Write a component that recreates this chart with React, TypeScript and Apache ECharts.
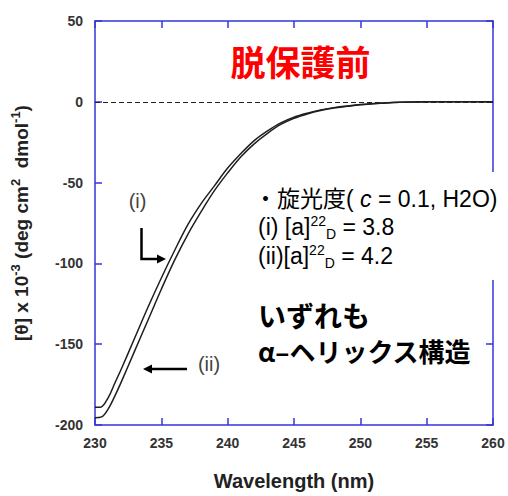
import React, { useEffect, useRef } from "react";
import * as echarts from "echarts";

// Wavelength (nm) and mean residue ellipticity [θ] x 10^-3
const wavelengthsI = [230, 230.4, 231, 231.5, 232, 233, 234, 235, 236, 237, 238, 239, 240, 241, 242, 243, 244, 245, 246, 247, 248, 249, 250, 251, 252, 253, 254, 255, 257, 260];
const thetaI = [-189, -189, -183, -174, -165, -146, -127, -109, -92, -76, -63, -52, -41, -32, -24, -18, -13, -9.5, -7, -5, -3.6, -2.6, -1.7, -1.1, -0.6, -0.3, -0.1, 0, 0, 0];

const wavelengthsII = [230, 230.5, 231, 231.5, 232, 233, 234, 235, 236, 237, 238, 239, 240, 241, 242, 243, 244, 245, 246, 247, 248, 249, 250, 251, 252, 253, 254, 255, 257, 260];
const thetaII = [-195.5, -195, -190, -182, -173, -154, -135, -116, -98, -82, -68, -55, -44, -34, -26, -19.5, -14, -10.2, -7.5, -5.4, -3.9, -2.8, -1.8, -1.2, -0.7, -0.35, -0.12, 0, 0, 0];

const xTicks = { min: 230, max: 260, interval: 5 };
const yTicks = { min: -200, max: 50, interval: 50 };

const AXIS_BLUE = "#3535d8";
const LATIN = "'Liberation Sans', Arial, 'Noto Sans CJK JP', sans-serif";
const CJK = "'Noto Sans CJK JP', 'Liberation Sans', sans-serif";

function pairs(xs: number[], ys: number[]) {
  return xs.map((x, i) => [x, ys[i]]);
}

export default function App() {
  const ref = useRef<HTMLDivElement>(null);

  useEffect(() => {
    document.body.style.margin = "0";
    const chart = echarts.init(ref.current!, null, { renderer: "svg" });

    const axisLine = { show: true, onZero: false, lineStyle: { color: AXIS_BLUE, width: 1.5 } };
    const axisTick = { show: true, inside: true, length: 7, lineStyle: { color: AXIS_BLUE, width: 1.5 } };
    const tickLabel = { color: "#333", fontSize: 14, fontWeight: "bold", fontFamily: LATIN };

    const rowRich = {
      n: { fontSize: 23, fontFamily: LATIN, color: "#000", lineHeight: 27, verticalAlign: "middle" },
      it: { fontSize: 23, fontFamily: LATIN, fontStyle: "italic", color: "#000", lineHeight: 27 },
      sup: { fontSize: 14, fontFamily: LATIN, color: "#000", lineHeight: 16, verticalAlign: "top" },
      sub: { fontSize: 14, fontFamily: LATIN, color: "#000", lineHeight: 14, verticalAlign: "bottom" },
    };

    chart.setOption({
      animation: false,
      backgroundColor: "#fff",
      grid: { left: 95, right: 15, top: 21, bottom: 69, containLabel: false },
      xAxis: [
        {
          type: "value",
          ...xTicks,
          position: "bottom",
          axisLine,
          axisTick,
          axisLabel: { ...tickLabel, margin: 11 },
          splitLine: { show: false },
          name: "Wavelength (nm)",
          nameLocation: "middle",
          nameGap: 46,
          nameTextStyle: { fontSize: 20, fontWeight: "bold", color: "#222", fontFamily: LATIN },
        },
        {
          type: "value",
          ...xTicks,
          position: "top",
          axisLine,
          axisTick,
          axisLabel: { show: false },
          splitLine: { show: false },
        },
      ],
      yAxis: [
        {
          type: "value",
          ...yTicks,
          position: "left",
          axisLine,
          axisTick,
          axisLabel: { ...tickLabel, margin: 12 },
          splitLine: { show: false },
          name: "[θ] x 10{sup|-3} (deg cm{sup|2}  dmol{sup|-1})",
          nameLocation: "middle",
          nameRotate: 90,
          nameGap: 62,
          nameTextStyle: {
            fontSize: 19,
            fontWeight: "bold",
            color: "#222",
            fontFamily: LATIN,
            lineHeight: 24,
            rich: {
              sup: { fontSize: 13, fontWeight: "bold", color: "#222", fontFamily: LATIN, lineHeight: 14, verticalAlign: "top" },
            },
          },
        },
        {
          type: "value",
          ...yTicks,
          position: "right",
          axisLine,
          axisTick,
          axisLabel: { show: false },
          splitLine: { show: false },
        },
      ],
      series: [
        {
          name: "(i)",
          type: "line",
          data: pairs(wavelengthsI, thetaI),
          smooth: 0.35,
          showSymbol: false,
          lineStyle: { color: "#1e1e1e", width: 1.5 },
          z: 3,
          markLine: {
            silent: true,
            symbol: ["none", "none"],
            label: { show: false },
            lineStyle: { color: "#222", type: [5, 3], width: 1.2 },
            data: [{ yAxis: 0 }],
          },
        },
        {
          name: "(ii)",
          type: "line",
          data: pairs(wavelengthsII, thetaII),
          smooth: 0.35,
          showSymbol: false,
          lineStyle: { color: "#1e1e1e", width: 1.5 },
          z: 3,
        },
      ],
      graphic: [
        {
          type: "rect",
          shape: { x: 254, y: 172, width: 254, height: 108 },
          style: { fill: "#fff" },
          z: 50,
        },
        {
          type: "text",
          x: 300.5,
          y: 60,
          style: { text: "脱保護前", fill: "#ff0000", font: `bold 35px ${CJK}`, align: "center", verticalAlign: "middle" },
          z: 60,
        },
        {
          type: "text",
          x: 137.5,
          y: 201,
          style: { text: "(i)", fill: "#444", font: `20px ${LATIN}`, align: "center", verticalAlign: "middle" },
          z: 60,
        },
        {
          type: "text",
          x: 209,
          y: 364,
          style: { text: "(ii)", fill: "#444", font: `20px ${LATIN}`, align: "center", verticalAlign: "middle" },
          z: 60,
        },
        {
          type: "polyline",
          shape: { points: [[141.5, 228], [141.5, 259], [158, 259]] },
          style: { stroke: "#000", lineWidth: 2.5, fill: null },
          z: 60,
        },
        {
          type: "polygon",
          shape: { points: [[157, 254.5], [166, 259], [157, 263.5]] },
          style: { fill: "#000" },
          z: 60,
        },
        {
          type: "line",
          shape: { x1: 187, y1: 369, x2: 150, y2: 369 },
          style: { stroke: "#000", lineWidth: 2.5 },
          z: 60,
        },
        {
          type: "polygon",
          shape: { points: [[152, 364.5], [143, 369], [152, 373.5]] },
          style: { fill: "#000" },
          z: 60,
        },
        {
          type: "text",
          x: 254,
          y: 199,
          style: {
            text: "{n|・旋光度( }{it|c}{n| = 0.1, H2O)}",
            rich: rowRich,
            align: "left",
            verticalAlign: "middle",
          },
          z: 60,
        },
        {
          type: "text",
          x: 258,
          y: 227,
          style: {
            text: "{n|(i) [a]}{sup|22}{sub|D}{n| = 3.8}",
            rich: rowRich,
            align: "left",
            verticalAlign: "middle",
          },
          z: 60,
        },
        {
          type: "text",
          x: 258,
          y: 256,
          style: {
            text: "{n|(ii)[a]}{sup|22}{sub|D}{n| = 4.2}",
            rich: rowRich,
            align: "left",
            verticalAlign: "middle",
          },
          z: 60,
        },
        {
          type: "text",
          x: 258,
          y: 315,
          style: { text: "いずれも", fill: "#000", font: `bold 28px ${CJK}`, align: "left", verticalAlign: "middle" },
          z: 60,
        },
        {
          type: "text",
          x: 258,
          y: 350,
          style: { text: "α–ヘリックス構造", fill: "#000", font: `bold 26px ${CJK}`, align: "left", verticalAlign: "middle" },
          z: 60,
        },
      ],
    });

    return () => chart.dispose();
  }, []);

  return (
    <div
      ref={ref}
      style={{ position: "fixed", left: 0, top: 0, width: 508, height: 496 }}
    />
  );
}
